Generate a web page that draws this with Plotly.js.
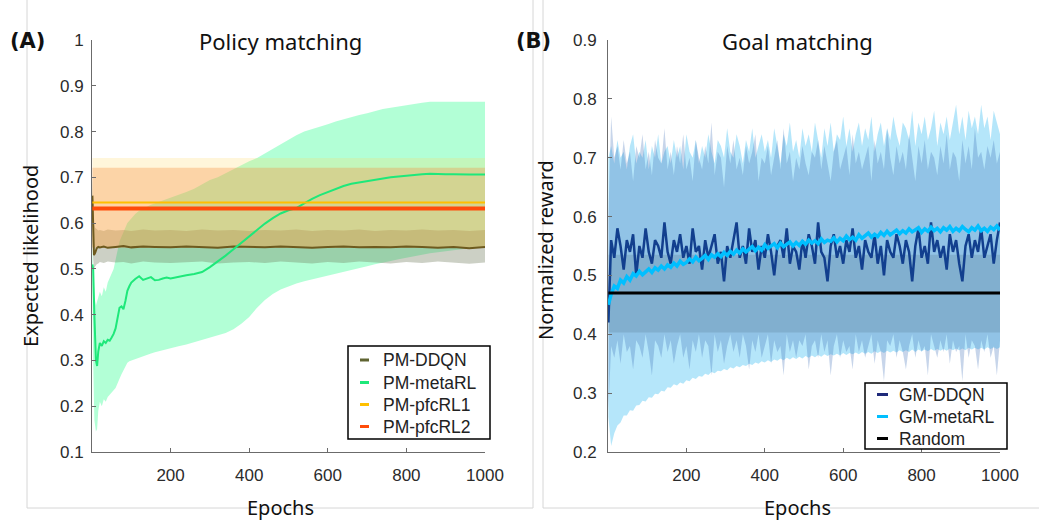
<!DOCTYPE html>
<html>
<head>
<meta charset="utf-8">
<script src="https://cdn.plot.ly/plotly-3.0.1.min.js"></script>
<style>html,body{margin:0;padding:0;background:#fff;}#chart{width:1039px;height:520px;}</style>
</head>
<body>
<div id="chart"></div>
<script>
// ---------- Panel A: Policy matching ----------
const pmMetaEpochs = [1,3,6,10,13,16,20,25,30,35,40,45,50,55,60,65,70,75,80,85,90,95,100,110,120,130,140,150,160,170,180,190,200,220,240,260,280,300,320,340,360,380,400,420,440,460,480,500,520,540,560,580,600,620,640,660,680,700,720,740,760,780,800,820,840,860,880,900,920,940,960,980,1000];
const pmMetaMean = [0.51,0.50,0.40,0.30,0.288,0.32,0.338,0.332,0.342,0.338,
0.345,0.343,0.350,0.358,0.370,0.395,0.415,0.418,0.412,0.430,
0.452,0.462,0.470,0.478,0.484,0.476,0.479,0.482,0.475,0.476,
0.479,0.481,0.479,0.483,0.486,0.489,0.493,0.504,0.516,0.529,
0.543,0.557,0.572,0.587,0.599,0.611,0.621,0.628,0.633,0.643,
0.653,0.661,0.668,0.675,0.681,0.686,0.689,0.692,0.695,0.698,
0.700,0.702,0.704,0.706,0.707,0.708,0.707,0.707,0.707,0.706,
0.706,0.706,0.706];
const pmMetaHi = [0.55,0.50,0.44,0.42,0.43,0.44,0.45,0.44,0.46,0.45,
0.47,0.48,0.49,0.50,0.52,0.54,0.56,0.57,0.58,0.59,
0.60,0.605,0.61,0.62,0.627,0.632,0.636,0.64,0.643,0.647,
0.65,0.652,0.655,0.662,0.668,0.675,0.685,0.694,0.70,0.709,
0.718,0.727,0.735,0.742,0.752,0.762,0.773,0.783,0.792,0.80,
0.805,0.81,0.816,0.822,0.827,0.831,0.836,0.84,0.845,0.849,
0.852,0.855,0.858,0.861,0.863,0.865,0.865,0.865,0.865,0.865,
0.865,0.865,0.865];
const pmMetaLo = [0.46,0.30,0.17,0.145,0.15,0.19,0.21,0.20,0.215,0.21,
0.22,0.225,0.23,0.235,0.24,0.25,0.26,0.27,0.28,0.287,
0.295,0.298,0.30,0.303,0.306,0.309,0.312,0.315,0.318,0.32,
0.323,0.325,0.327,0.331,0.335,0.339,0.344,0.349,0.355,0.36,
0.368,0.38,0.395,0.415,0.432,0.445,0.455,0.462,0.468,0.473,
0.477,0.481,0.485,0.49,0.494,0.498,0.502,0.506,0.51,0.514,
0.517,0.521,0.525,0.528,0.531,0.534,0.537,0.539,0.541,0.543,
0.545,0.547,0.548];

const pmDdqnEpochs = [1,3,5,8,12,16,20,30,40,60,80,100,130,160,200,240,280,320,360,400,440,480,520,560,600,640,680,720,760,800,840,880,920,960,1000];
const pmDdqnMean = [0.66,0.58,0.53,0.535,0.545,0.548,0.547,0.549,0.546,0.548,0.550,0.547,0.549,0.548,0.547,0.549,0.548,0.546,0.549,0.548,0.547,0.549,0.548,0.546,0.548,0.549,0.547,0.548,0.547,0.549,0.548,0.546,0.548,0.545,0.548];
const pmDdqnHi = [0.70,0.66,0.60,0.59,0.586,0.584,0.585,0.583,0.586,0.584,0.585,0.583,0.586,0.584,0.585,0.583,0.586,0.584,0.585,0.583,0.585,0.584,0.586,0.583,0.585,0.584,0.586,0.583,0.585,0.584,0.586,0.584,0.585,0.583,0.585];
const pmDdqnLo = [0.56,0.52,0.50,0.505,0.51,0.512,0.515,0.513,0.516,0.514,0.515,0.512,0.516,0.514,0.513,0.515,0.516,0.512,0.514,0.515,0.513,0.516,0.514,0.512,0.515,0.513,0.516,0.514,0.512,0.515,0.513,0.516,0.514,0.511,0.514];

const pfcEpochs = [1,1000];
const pfcRL1Mean = [0.645,0.645];
const pfcRL1Hi = [0.742,0.742];
const pfcRL1Lo = [0.548,0.548];
const pfcRL2Mean = [0.632,0.632];
const pfcRL2Hi = [0.721,0.721];
const pfcRL2Lo = [0.546,0.546];

// ---------- Panel B: Goal matching ----------
const gmEpochs = [1,8,16,24,32,40,48,56,64,72,
80,88,96,104,112,120,128,136,144,152,
160,168,176,184,192,200,208,216,224,232,
240,248,256,264,272,280,288,296,304,312,
320,328,336,344,352,360,368,376,384,392,
400,408,416,424,432,440,448,456,464,472,
480,488,496,504,512,520,528,536,544,552,
560,568,576,584,592,600,608,616,624,632,
640,648,656,664,672,680,688,696,704,712,
720,728,736,744,752,760,768,776,784,792,
800,808,816,824,832,840,848,856,864,872,
880,888,896,904,912,920,928,936,944,952,
960,968,976,984,992,1000];
const gmDdqnMean = [0.42,0.56,0.53,0.58,0.55,0.51,0.56,0.54,0.57,0.50,
0.55,0.53,0.58,0.54,0.52,0.56,0.55,0.53,0.59,0.54,
0.52,0.56,0.54,0.57,0.53,0.55,0.52,0.58,0.54,0.55,
0.51,0.56,0.53,0.55,0.57,0.52,0.54,0.49,0.55,0.53,
0.56,0.59,0.53,0.55,0.52,0.58,0.54,0.56,0.51,0.55,
0.53,0.57,0.54,0.50,0.55,0.56,0.53,0.58,0.52,0.55,
0.54,0.51,0.56,0.53,0.57,0.55,0.52,0.59,0.54,0.53,
0.49,0.55,0.57,0.53,0.55,0.52,0.56,0.54,0.58,0.53,
0.55,0.51,0.56,0.54,0.53,0.57,0.52,0.55,0.50,0.56,
0.54,0.53,0.57,0.55,0.52,0.56,0.54,0.49,0.55,0.58,
0.53,0.55,0.52,0.59,0.54,0.56,0.53,0.55,0.51,0.57,
0.54,0.56,0.52,0.49,0.55,0.57,0.53,0.56,0.54,0.58,
0.53,0.55,0.57,0.52,0.56,0.59];
const gmDdqnHi = [0.60,0.77,0.70,0.72,0.68,0.73,0.69,0.71,0.66,0.72,
0.70,0.74,0.68,0.71,0.67,0.73,0.70,0.69,0.75,0.68,
0.71,0.67,0.72,0.69,0.74,0.68,0.70,0.66,0.73,0.70,
0.68,0.72,0.69,0.76,0.67,0.71,0.70,0.65,0.72,0.69,
0.73,0.68,0.70,0.67,0.72,0.69,0.71,0.74,0.66,0.70,
0.69,0.72,0.67,0.70,0.73,0.68,0.75,0.69,0.71,0.66,
0.70,0.68,0.72,0.69,0.67,0.71,0.70,0.73,0.68,0.72,
0.69,0.66,0.71,0.73,0.68,0.70,0.72,0.67,0.74,0.69,
0.71,0.68,0.70,0.72,0.66,0.73,0.69,0.71,0.68,0.75,
0.70,0.67,0.72,0.69,0.71,0.68,0.74,0.70,0.66,0.72,
0.69,0.73,0.68,0.71,0.70,0.67,0.72,0.69,0.74,0.68,
0.71,0.70,0.66,0.73,0.69,0.72,0.68,0.75,0.70,0.71,
0.68,0.72,0.70,0.73,0.69,0.71];
const gmDdqnLo = [0.27,0.38,0.36,0.39,0.35,0.40,0.37,0.38,0.34,0.39,
0.38,0.36,0.40,0.37,0.33,0.39,0.38,0.36,0.40,0.37,
0.39,0.35,0.38,0.40,0.36,0.38,0.34,0.39,0.37,0.40,
0.36,0.39,0.38,0.33,0.40,0.37,0.39,0.35,0.38,0.40,
0.37,0.39,0.36,0.40,0.38,0.34,0.39,0.37,0.40,0.36,
0.38,0.40,0.35,0.39,0.37,0.38,0.33,0.40,0.37,0.39,
0.36,0.39,0.38,0.40,0.34,0.38,0.39,0.36,0.40,0.37,
0.39,0.33,0.38,0.40,0.36,0.39,0.37,0.38,0.34,0.40,
0.37,0.39,0.36,0.38,0.40,0.35,0.39,0.37,0.32,0.39,
0.38,0.40,0.36,0.39,0.37,0.34,0.38,0.40,0.36,0.39,
0.37,0.38,0.33,0.40,0.38,0.36,0.39,0.37,0.40,0.35,
0.39,0.37,0.38,0.32,0.40,0.36,0.39,0.38,0.34,0.39,
0.37,0.40,0.36,0.38,0.33,0.39];
const gmMetaMean = [0.450,0.468,0.482,0.478,0.492,0.487,0.498,0.492,0.503,0.499,
0.507,0.501,0.506,0.511,0.505,0.513,0.509,0.516,0.511,0.518,
0.514,0.521,0.516,0.524,0.519,0.522,0.528,0.523,0.531,0.525,
0.529,0.534,0.527,0.535,0.531,0.537,0.532,0.539,0.534,0.541,
0.536,0.543,0.538,0.545,0.540,0.544,0.549,0.542,0.548,0.543,
0.552,0.546,0.550,0.554,0.547,0.555,0.549,0.553,0.557,0.550,
0.556,0.551,0.558,0.553,0.560,0.555,0.559,0.554,0.562,0.556,
0.560,0.558,0.564,0.557,0.563,0.559,0.567,0.561,0.565,0.560,
0.569,0.563,0.567,0.572,0.565,0.570,0.566,0.573,0.568,0.575,
0.569,0.574,0.577,0.571,0.576,0.572,0.579,0.574,0.577,0.581,
0.573,0.579,0.575,0.582,0.576,0.580,0.574,0.581,0.577,0.583,
0.575,0.580,0.576,0.583,0.578,0.574,0.581,0.577,0.584,0.576,
0.580,0.575,0.582,0.578,0.584,0.577];
const gmMetaHi = [0.70,0.72,0.69,0.73,0.70,0.71,0.68,0.72,0.74,0.69,
0.71,0.70,0.73,0.68,0.72,0.70,0.74,0.69,0.71,0.72,
0.69,0.73,0.70,0.72,0.68,0.74,0.71,0.70,0.73,0.69,
0.72,0.70,0.74,0.71,0.69,0.73,0.72,0.70,0.75,0.71,
0.70,0.74,0.72,0.69,0.73,0.71,0.75,0.70,0.72,0.74,
0.71,0.73,0.70,0.75,0.72,0.69,0.74,0.72,0.76,0.71,
0.73,0.70,0.75,0.72,0.74,0.71,0.76,0.73,0.70,0.75,
0.72,0.76,0.71,0.74,0.73,0.77,0.72,0.75,0.71,0.74,
0.76,0.72,0.75,0.73,0.77,0.71,0.74,0.76,0.72,0.75,
0.73,0.77,0.74,0.72,0.76,0.75,0.73,0.78,0.72,0.76,
0.74,0.77,0.73,0.75,0.78,0.72,0.76,0.74,0.77,0.73,
0.76,0.79,0.74,0.77,0.73,0.78,0.75,0.77,0.74,0.79,
0.75,0.77,0.73,0.78,0.76,0.74];
const gmMetaLo = [0.26,0.21,0.232,0.245,0.25,0.262,0.262,0.271,0.27,0.279,
0.28,0.287,0.286,0.293,0.292,0.299,0.298,0.304,0.303,0.31,
0.309,0.315,0.313,0.318,0.316,0.322,0.32,0.326,0.324,0.329,
0.328,0.333,0.331,0.336,0.334,0.338,0.337,0.341,0.339,0.344,
0.342,0.346,0.344,0.348,0.346,0.35,0.348,0.352,0.35,0.354,
0.352,0.356,0.353,0.357,0.355,0.359,0.356,0.36,0.357,0.361,
0.358,0.362,0.359,0.363,0.36,0.364,0.361,0.365,0.362,0.366,
0.363,0.366,0.364,0.367,0.364,0.368,0.365,0.368,0.366,0.369,
0.366,0.37,0.367,0.37,0.367,0.371,0.368,0.371,0.368,0.372,
0.369,0.372,0.369,0.373,0.37,0.373,0.37,0.374,0.37,0.374,
0.371,0.374,0.371,0.375,0.372,0.375,0.372,0.375,0.372,0.376,
0.373,0.376,0.373,0.376,0.373,0.377,0.374,0.377,0.374,0.377,
0.374,0.378,0.375,0.378,0.375,0.378];
const randomEpochs = [1,1000];
const randomMean = [0.47,0.47];
const randomHi = [0.535,0.535];
const randomLo = [0.403,0.403];

const tickVals = [200,400,600,800,1000];
const labelsA = {panel:'(A)', title:'Policy matching', y:'Expected likelihood', x:'Epochs'};
const labelsB = {panel:'(B)', title:'Goal matching', y:'Normalized reward', x:'Epochs'};
const legendA = ['PM-DDQN','PM-metaRL','PM-pfcRL1','PM-pfcRL2'];
const legendB = ['GM-DDQN','GM-metaRL','Random'];

// ---------- helpers ----------
function band(x, lo, hi, color, xa, ya){
  return {x: x.concat(x.slice().reverse()), y: hi.concat(lo.slice().reverse()),
    type:'scatter', mode:'lines', fill:'toself', fillcolor: color,
    line:{width:0, color:'rgba(0,0,0,0)'}, hoverinfo:'skip', showlegend:false, xaxis:xa, yaxis:ya};
}
function line(x, y, color, w, name, xa, ya){
  return {x:x, y:y, type:'scatter', mode:'lines', name:name, line:{color:color, width:w},
    showlegend:false, xaxis:xa, yaxis:ya};
}

const C = {
  pmDdqn:'#6e5a1e', pmMeta:'#1ee87a', pfc1:'#ffc000', pfc2:'#ff4c0a',
  gmDdqn:'#123f8e', gmMeta:'#00bfff', rnd:'#000000'
};
const keyColA = ['#5f6432', C.pmMeta, C.pfc1, C.pfc2];
const keyColB = ['#1f2a7a', C.gmMeta, C.rnd];

const traces = [
  band(pmMetaEpochs, pmMetaLo, pmMetaHi, 'rgba(95,255,170,0.48)', 'x','y'),
  band(pmDdqnEpochs, pmDdqnLo, pmDdqnHi, 'rgba(110,120,90,0.35)', 'x','y'),
  band(pfcEpochs, pfcRL1Lo, pfcRL1Hi, 'rgba(255,215,90,0.22)', 'x','y'),
  band(pfcEpochs, pfcRL2Lo, pfcRL2Hi, 'rgba(245,140,60,0.32)', 'x','y'),
  line(pmDdqnEpochs, pmDdqnMean, C.pmDdqn, 2, legendA[0], 'x','y'),
  line(pmMetaEpochs, pmMetaMean, C.pmMeta, 2, legendA[1], 'x','y'),
  line(pfcEpochs, pfcRL1Mean, C.pfc1, 2, legendA[2], 'x','y'),
  line(pfcEpochs, pfcRL2Mean, C.pfc2, 4, legendA[3], 'x','y'),

  band(gmEpochs, gmMetaLo, gmMetaHi, 'rgba(90,200,245,0.45)', 'x2','y2'),
  band(gmEpochs, gmDdqnLo, gmDdqnHi, 'rgba(55,105,178,0.28)', 'x2','y2'),
  band(randomEpochs, randomLo, randomHi, 'rgba(20,30,40,0.12)', 'x2','y2'),
  line(gmEpochs, gmDdqnMean, C.gmDdqn, 2.5, legendB[0], 'x2','y2'),
  line(gmEpochs, gmMetaMean, C.gmMeta, 3.5, legendB[1], 'x2','y2'),
  line(randomEpochs, randomMean, C.rnd, 3, legendB[2], 'x2','y2')
];

const W = 1039, H = 520;
const px = v => v / W, py = v => 1 - v / H;
const tickFont = {family:'Liberation Sans, Arial, sans-serif', size:17, color:'#2b2b2b'};
const axBase = {showline:true, linecolor:'#6b6b6b', linewidth:1, ticks:'inside', ticklen:4,
  tickcolor:'#6b6b6b', showgrid:false, zeroline:false, tickfont:tickFont, fixedrange:true};
const titleFont = {family:'Noto Sans, sans-serif', size:22, color:'#111'};
const labFont = {family:'Noto Sans, sans-serif', size:20, color:'#111'};
const panFont = {family:'DejaVu Sans, sans-serif', size:21, color:'#111', weight:'bold'};
const legFont = {family:'Liberation Sans, Arial, sans-serif', size:17.5, color:'#222'};

function ann(text, x, y, font, angle){
  return {text:text, xref:'paper', yref:'paper', x:x, y:y, xanchor:'center', yanchor:'middle',
    showarrow:false, font:font, textangle:angle||0};
}
function seg(x0,y0,x1,y1,color,w){
  return {type:'line', xref:'paper', yref:'paper', x0:x0, y0:y0, x1:x1, y1:y1,
    line:{color:color||'#d6d6d6', width:w||1}};
}

// legend boxes (pixel geometry)
function legendParts(names, cols, box, rows, dashX, textX){
  const shapes = [{type:'rect', xref:'paper', yref:'paper', x0:px(box[0]), x1:px(box[1]), y0:py(box[3]), y1:py(box[2]),
    fillcolor:'#ffffff', line:{color:'#000000', width:1.5}, layer:'above'}];
  const anns = [];
  names.forEach((n,i)=>{
    shapes.push(Object.assign(seg(px(dashX[0]), py(rows[i]), px(dashX[1]), py(rows[i]), cols[i], 3), {layer:'above'}));
    anns.push({text:n, xref:'paper', yref:'paper', x:px(textX), y:py(rows[i]), xanchor:'left', yanchor:'middle',
      showarrow:false, font:legFont});
  });
  return {shapes, anns};
}
const legA = legendParts(legendA, keyColA, [348,490,346,439], [360,382.5,404.5,426.5], [360,369], 381);
const legB = legendParts(legendB, keyColB, [865,1007,383,449], [394.5,416.5,438.5], [877,888], 897);

const layout = {
  width:W, height:H, margin:{l:0,r:0,t:0,b:0}, paper_bgcolor:'#fff', plot_bgcolor:'rgba(0,0,0,0)',
  showlegend:false,
  xaxis: Object.assign({}, axBase, {domain:[px(92), px(485)], range:[0,1000], tickvals:tickVals, anchor:'y', ticklabelstandoff:8}),
  yaxis: Object.assign({}, axBase, {domain:[py(452), py(40)], range:[0.1,1], tick0:0.1, dtick:0.1, anchor:'x', ticklabelstandoff:4}),
  xaxis2: Object.assign({}, axBase, {domain:[px(608), px(1000)], range:[0,1000], tickvals:tickVals, anchor:'y2', ticklabelstandoff:8}),
  yaxis2: Object.assign({}, axBase, {domain:[py(452), py(40)], range:[0.2,0.9], tick0:0.2, dtick:0.1, anchor:'x2', ticklabelstandoff:7}),
  annotations:[
    ann(labelsA.panel, px(27), py(41), panFont),
    ann(labelsA.title, px(280), py(41), titleFont),
    ann(labelsA.y, px(30), py(256), labFont, -90),
    ann(labelsA.x, px(280), py(507), labFont),
    ann(labelsB.panel, px(533), py(41), panFont),
    ann(labelsB.title, px(797), py(41), titleFont),
    ann(labelsB.y, px(545), py(250), labFont, -90),
    ann(labelsB.x, px(797), py(507), labFont)
  ].concat(legA.anns, legB.anns),
  shapes:[
    seg(px(27), py(0), px(27), py(508)),
    seg(px(27), py(508), px(533), py(508)),
    seg(px(533), py(0), px(533), py(508)),
    seg(px(543), py(0), px(543), py(508)),
    seg(px(543), py(508), 1, py(508))
  ].concat(legA.shapes, legB.shapes)
};

Plotly.newPlot('chart', traces, layout, {staticPlot:true, displayModeBar:false});
</script>
</body>
</html>
